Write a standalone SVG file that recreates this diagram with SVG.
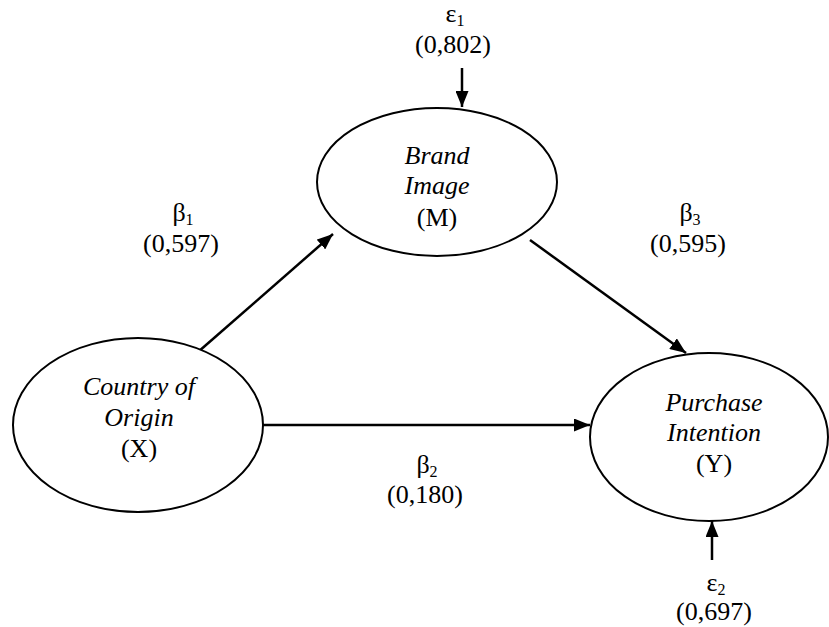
<svg xmlns="http://www.w3.org/2000/svg" width="829" height="627" viewBox="0 0 829 627">
<style>
.node{fill:#fff;stroke:#000;stroke-width:2}
.lbl{font-size:26px;fill:#000;text-anchor:middle}
.it{font-style:italic}
.sub{font-size:16px}
.edge{stroke:#000;stroke-width:2.5;fill:none;marker-end:url(#ah)}
</style>
<defs>
<marker id="ah" markerUnits="userSpaceOnUse" markerWidth="16" markerHeight="13" refX="16" refY="6.5" orient="auto">
<path d="M0,0 L16,6.5 L0,13 z" fill="#000"/>
</marker>
</defs>
<rect width="829" height="627" fill="#fff"/>
<g id="connectors">
<line class="edge" x1="198" y1="352" x2="333" y2="234"/>
<line class="edge" x1="530" y1="240" x2="686" y2="353"/>
<line class="edge" x1="262" y1="425" x2="590" y2="425"/>
<line class="edge" x1="462" y1="68" x2="462" y2="107"/>
<line class="edge" x1="712" y1="560" x2="712" y2="521"/>
</g>
<g font-family="'Liberation Serif', 'DejaVu Serif', 'Times New Roman', serif">
<g id="node-M">
<ellipse class="node" cx="437" cy="182" rx="120" ry="74"/>
<text class="lbl it" x="437" y="164">Brand</text>
<text class="lbl it" x="437" y="194">Image</text>
<text class="lbl" x="437" y="226">(M)</text>
</g>
<g id="node-X">
<ellipse class="node" cx="138" cy="425" rx="125" ry="87"/>
<text class="lbl it" x="139" y="395">Country of</text>
<text class="lbl it" x="139" y="426">Origin</text>
<text class="lbl" x="139" y="457">(X)</text>
</g>
<g id="node-Y">
<ellipse class="node" cx="709" cy="437" rx="119" ry="84"/>
<text class="lbl it" x="714" y="411">Purchase</text>
<text class="lbl it" x="714" y="441">Intention</text>
<text class="lbl" x="714" y="472">(Y)</text>
</g>
<g id="labels">
<text class="lbl" x="455" y="22">ε<tspan class="sub" dy="4">1</tspan></text>
<text class="lbl" x="453" y="53">(0,802)</text>
<text class="lbl" x="183" y="221">β<tspan class="sub" dy="4">1</tspan></text>
<text class="lbl" x="181" y="252">(0,597)</text>
<text class="lbl" x="690" y="221">β<tspan class="sub" dy="4">3</tspan></text>
<text class="lbl" x="688" y="252">(0,595)</text>
<text class="lbl" x="427" y="473">β<tspan class="sub" dy="4">2</tspan></text>
<text class="lbl" x="425" y="503">(0,180)</text>
<text class="lbl" x="716" y="591">ε<tspan class="sub" dy="4">2</tspan></text>
<text class="lbl" x="714" y="620">(0,697)</text>
</g>
</g>
</svg>
